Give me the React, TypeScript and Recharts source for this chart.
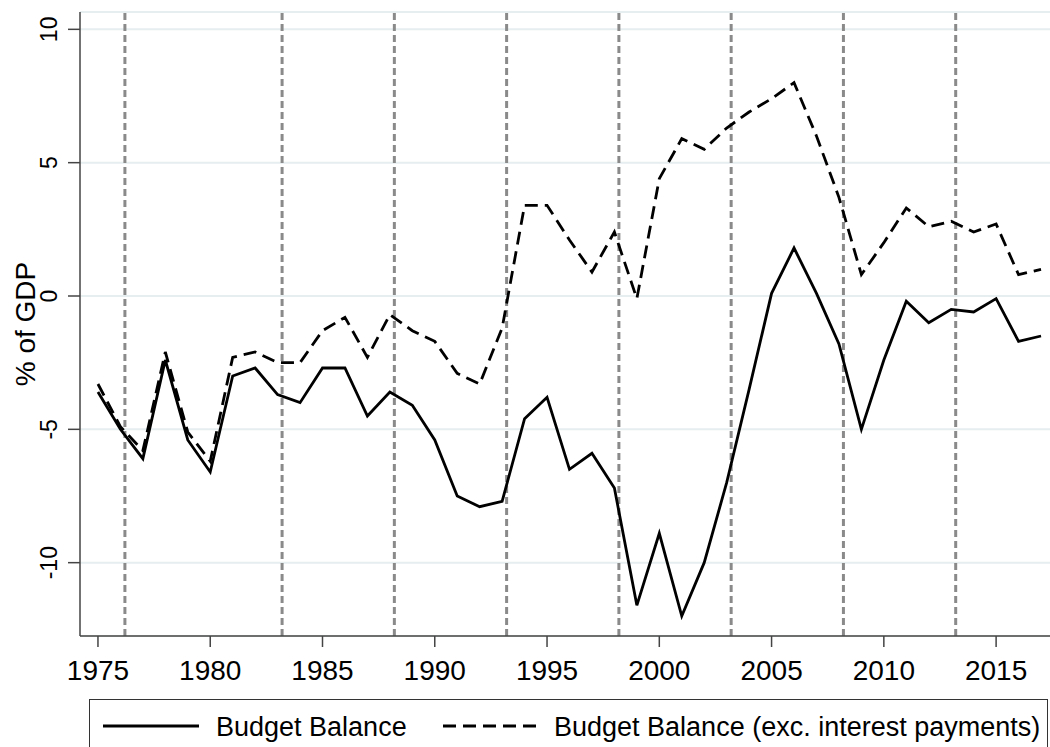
import React from "react";
import { CartesianGrid, Label, Line, LineChart, ReferenceLine, XAxis, YAxis } from "recharts";

const years = [
  1975, 1976, 1977, 1978, 1979, 1980, 1981, 1982, 1983, 1984, 1985, 1986, 1987, 1988, 1989,
  1990, 1991, 1992, 1993, 1994, 1995, 1996, 1997, 1998, 1999, 2000, 2001, 2002, 2003, 2004,
  2005, 2006, 2007, 2008, 2009, 2010, 2011, 2012, 2013, 2014, 2015, 2016, 2017,
];

// Budget Balance (% of GDP)
const balance = [
  -3.6, -5.0, -6.1, -2.4, -5.4, -6.6, -3.0, -2.7, -3.7, -4.0, -2.7, -2.7, -4.5, -3.6, -4.1,
  -5.4, -7.5, -7.9, -7.7, -4.6, -3.8, -6.5, -5.9, -7.2, -11.6, -8.9, -12.0, -10.0, -7.0, -3.5,
  0.1, 1.8, 0.1, -1.8, -5.0, -2.4, -0.2, -1.0, -0.5, -0.6, -0.1, -1.7, -1.5,
];

// Budget Balance excluding interest payments
const primary = [
  -3.3, -4.9, -5.8, -2.1, -5.1, -6.2, -2.3, -2.1, -2.5, -2.5, -1.3, -0.8, -2.3, -0.7, -1.3,
  -1.7, -2.9, -3.3, -1.2, 3.4, 3.4, 2.1, 0.9, 2.4, -0.1, 4.4, 5.9, 5.5, 6.3, 6.9,
  7.4, 8.0, 6.0, 3.7, 0.8, 2.0, 3.3, 2.6, 2.8, 2.4, 2.7, 0.8, 1.0,
];

// vertical markers (election dates)
const markers = [1976.2, 1983.2, 1988.2, 1993.2, 1998.2, 2003.2, 2008.2, 2013.2];

const xTicks = [1975, 1980, 1985, 1990, 1995, 2000, 2005, 2010, 2015];
const yTicks = [-10, -5, 0, 5, 10];

const data = years.map((year, i) => ({ year, balance: balance[i], primary: primary[i] }));

const FONT = "'Liberation Sans', Arial, sans-serif";

const XTick = ({ x, y, payload }: any) => (
  <text x={x} y={y + 31} textAnchor="middle" fontFamily={FONT} fontSize={28} fill="#000">
    {payload.value}
  </text>
);

const YTick = ({ x, y, payload }: any) => {
  const bx = x - 9;
  return (
    <text
      x={bx}
      y={y}
      transform={`rotate(-90 ${bx} ${y})`}
      textAnchor="middle"
      fontFamily={FONT}
      fontSize={23}
      fill="#000"
    >
      {payload.value}
    </text>
  );
};

const YLabel = ({ viewBox }: any) => {
  const cx = 35;
  const cy = viewBox.y + viewBox.height / 2;
  return (
    <text
      x={cx}
      y={cy}
      transform={`rotate(-90 ${cx} ${cy})`}
      textAnchor="middle"
      fontFamily={FONT}
      fontSize={28}
      fill="#000"
    >
      % of GDP
    </text>
  );
};

const ChartLegend = () => (
  <div
    style={{
      position: "absolute",
      left: 89,
      top: 699,
      width: 957,
      height: 80,
      border: "1.5px solid #333",
      background: "#fff",
    }}
  >
    <svg width={957} height={80} style={{ position: "absolute", left: 0, top: 0 }}>
      <line x1={13} x2={109} y1={26} y2={26} stroke="#000" strokeWidth={2.8} />
      <text x={126} y={36} fontFamily={FONT} fontSize={27} fill="#000">
        Budget Balance
      </text>
      <line x1={353} x2={449} y1={26} y2={26} stroke="#000" strokeWidth={2.8} strokeDasharray="13 7" />
      <text x={464} y={36} fontFamily={FONT} fontSize={27} fill="#000">
        Budget Balance (exc. interest payments)
      </text>
    </svg>
  </div>
);

export default function App() {
  return (
    <div style={{ position: "absolute", left: 0, top: 0, width: 1050, height: 747, background: "#fff", overflow: "hidden" }}>
      <LineChart width={1050} height={747} data={data} margin={{ top: 12, right: 0, bottom: 0, left: 0 }}>
        <CartesianGrid horizontal vertical={false} stroke="#e6eef0" strokeWidth={2} />
        <XAxis
          dataKey="year"
          type="number"
          domain={[1974.2, 2017.4]}
          allowDataOverflow
          ticks={xTicks}
          height={111}
          tickSize={11}
          axisLine={{ stroke: "#444", strokeWidth: 1.5 }}
          tickLine={{ stroke: "#444", strokeWidth: 1.5 }}
          tick={<XTick />}
        />
        <YAxis
          type="number"
          domain={[-12.75, 10.65]}
          allowDataOverflow
          ticks={yTicks}
          width={80}
          tickSize={12}
          axisLine={{ stroke: "#444", strokeWidth: 1.5 }}
          tickLine={{ stroke: "#444", strokeWidth: 1.5 }}
          tick={<YTick />}
        >
          <Label content={<YLabel />} />
        </YAxis>
        {markers.map((m) => (
          <ReferenceLine key={m} x={m} stroke="#8a8a8a" strokeWidth={3} strokeDasharray="7 4" />
        ))}
        <Line
          type="linear"
          dataKey="balance"
          stroke="#000"
          strokeWidth={2.8}
          dot={false}
          isAnimationActive={false}
        />
        <Line
          type="linear"
          dataKey="primary"
          stroke="#000"
          strokeWidth={2.8}
          strokeDasharray="13 7"
          dot={false}
          isAnimationActive={false}
        />
      </LineChart>
      <ChartLegend />
    </div>
  );
}
